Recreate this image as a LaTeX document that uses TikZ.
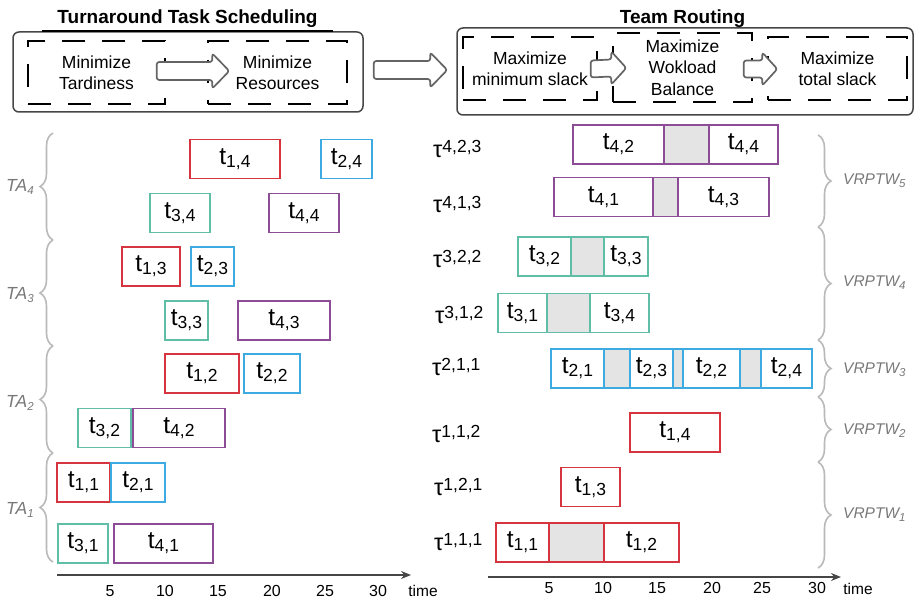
\documentclass[tikz,border=0pt]{standalone}
\usepackage{fontspec}
\setmainfont{Liberation Sans}
\usetikzlibrary{calc,decorations.pathreplacing,arrows.meta}

\definecolor{tred}{RGB}{214,52,62}
\definecolor{tblue}{RGB}{62,170,226}
\definecolor{tteal}{RGB}{96,190,166}
\definecolor{tpurple}{RGB}{140,76,150}
\definecolor{slotfill}{RGB}{228,228,228}
\definecolor{bracegray}{RGB}{185,185,185}
\definecolor{labelgray}{RGB}{120,120,120}
\definecolor{framegray}{RGB}{70,70,70}
\definecolor{arrowgray}{RGB}{100,100,100}

% task label t_{i,j}
\newcommand\tk[2]{{\fontsize{24.5}{24.5}\selectfont t\raisebox{-3pt}{\fontsize{17.5}{17.5}\selectfont #1,#2}}}
% route label tau^{i,j,k}
\newcommand\taul[1]{{\fontsize{23.5}{23.5}\selectfont τ\raisebox{5pt}{\fontsize{17.5}{17.5}\selectfont #1}}}
% group label with subscript
\newcommand\grp[3]{{\itshape\fontsize{#3}{#3}\selectfont #1\raisebox{-3pt}{\fontsize{11.5}{11.5}\selectfont #2}}}
% hollow block arrow between two coordinates
\newcommand\blockarr[5]{%
  \draw[blockarrow] ($(#1)+(0,-#4)$) -- ($(#2)+(-#3,-#4)$) -- ($(#2)+(-#3,-#5)$) --
    (#2) -- ($(#2)+(-#3,#5)$) -- ($(#2)+(-#3,#4)$) -- ($(#1)+(0,#4)$) -- cycle;}

\begin{document}
\begin{tikzpicture}[x=1pt,y=-1pt,
  task/.style={draw=#1, line width=1.8pt, minimum height=39pt, inner sep=0pt, fill=white},
  slotbox/.style={draw=#1, line width=1.8pt, minimum height=39pt, inner sep=0pt, fill=slotfill},
  goal/.style={draw=black, line width=1.4pt, dash pattern=on 23pt off 17pt, inner sep=0pt,
    align=center, font=\fontsize{17.5}{21.5}\selectfont},
  stage/.style={draw=framegray, line width=1.5pt, rounded corners=6pt, inner sep=0pt},
  blockarrow/.style={draw=arrowgray, line width=1.7pt, fill=white, rounded corners=2.5pt, line join=round},
  brace/.style={draw=bracegray, line width=1.6pt, decorate, decoration={brace, amplitude=13pt}},
  axis/.style={draw=framegray, line width=1.5pt, -{Stealth[length=10pt, width=8pt]}},
  tick/.style={font=\fontsize{16}{16}\selectfont},
  timelbl/.style={font=\fontsize{15.5}{15.5}\selectfont},
  grplbl/.style={text=labelgray, inner sep=0pt},
  routelbl/.style={inner sep=0pt, anchor=base west},
  titlelbl/.style={font=\bfseries\fontsize{19}{19}\selectfont, anchor=base}
]
\useasboundingbox (0,0) rectangle (914,599);

% ---------- objectives ----------
\node[titlelbl] (title1) at (187.5,24) {Turnaround Task Scheduling};
\node[titlelbl] (title2) at (682.5,23.5) {Team Routing};

\node[stage, minimum width=350pt, minimum height=80pt] (st1) at (188,72) {};
\draw[line width=2pt, black] ($(st1.north west)+(30,0)$) -- ($(st1.north east)+(-31,0)$);
\node[stage, minimum width=456pt, minimum height=87pt] (st2) at (685,71.5) {};

\node[goal, minimum width=137pt, minimum height=63pt] (g1) at (96.5,72.5) {Minimize\\Tardiness};
\node[goal, minimum width=139pt, minimum height=63pt] (g2) at (277.5,72.5) {Minimize\\Resources};

\node[goal, minimum width=134pt, minimum height=63pt] (g3) at (530,68.5) {Maximize\\minimum slack};
\node[goal, minimum width=139pt, minimum height=69pt] (g4) at (682.5,67.5) {Maximize\\Wokload\\Balance};
\node[goal, minimum width=139pt, minimum height=63pt] (g5) at (837.5,68.5) {Maximize\\total slack};

\coordinate (a1s) at ($(g1.east)+(-9,-1.5)$);
\coordinate (a1e) at ($(g2.west)+(22,-1.5)$);
\blockarr{a1s}{a1e}{17}{9}{17.5}
\coordinate (a2s) at ($(st1.east)+(10,-2)$);
\coordinate (a2e) at ($(st2.west)+(-9,-1.5)$);
\blockarr{a2s}{a2e}{17}{9}{17.5}
\coordinate (a3s) at ($(g3.east)+(-7,0.5)$);
\coordinate (a3e) at ($(g4.west)+(14,0.5)$);
\blockarr{a3s}{a3e}{15}{8.5}{16.5}
\coordinate (a4s) at ($(g4.east)+(-9,1.5)$);
\coordinate (a4e) at ($(g5.west)+(10,0.5)$);
\blockarr{a4s}{a4e}{15}{8.5}{16.5}

% ---------- turnaround schedule ----------
\node[task=tred,    minimum width=90pt] (L14) at (235,159)   {\tk{1}{4}};
\node[task=tblue,   minimum width=51pt] (L24) at (346.5,159) {\tk{2}{4}};
\node[task=tteal,   minimum width=60pt] (L34) at (180,213)   {\tk{3}{4}};
\node[task=tpurple, minimum width=70pt] (L44) at (304,213)   {\tk{4}{4}};
\node[task=tred,    minimum width=58pt] (L13) at (151,266.5) {\tk{1}{3}};
\node[task=tblue,   minimum width=43pt] (L23) at (212.5,266.5) {\tk{2}{3}};
\node[task=tteal,   minimum width=43pt] (L33) at (186.5,320.5) {\tk{3}{3}};
\node[task=tpurple, minimum width=92pt] (L43) at (284,320.5) {\tk{4}{3}};
\node[task=tred,    minimum width=74pt] (L12) at (202,373.5) {\tk{1}{2}};
\node[task=tblue,   minimum width=56pt] (L22) at (272,373.5) {\tk{2}{2}};
\node[task=tteal,   minimum width=53pt] (L32) at (104.5,428) {\tk{3}{2}};
\node[task=tpurple, minimum width=92pt] (L42) at (179,428)   {\tk{4}{2}};
\node[task=tred,    minimum width=53pt] (L11) at (83.5,482.5) {\tk{1}{1}};
\node[task=tblue,   minimum width=54pt] (L21) at (138,482.5) {\tk{2}{1}};
\node[task=tteal,   minimum width=50pt] (L31) at (83,543.5)  {\tk{3}{1}};
\node[task=tpurple, minimum width=99pt] (L41) at (163.5,543.5) {\tk{4}{1}};

\draw[brace] (53,240) -- (53,133);
\draw[brace] (53,346) -- (53,240);
\draw[brace] (53,453) -- (53,346);
\draw[brace] (53,562) -- (53,453);
\node[grplbl, anchor=base west] (TA4) at (6,192) {\grp{TA}{4}{17.5}};
\node[grplbl, anchor=base west] (TA3) at (6,299) {\grp{TA}{3}{17.5}};
\node[grplbl, anchor=base west] (TA2) at (6,407) {\grp{TA}{2}{17.5}};
\node[grplbl, anchor=base west] (TA1) at (6,514) {\grp{TA}{1}{17.5}};

\coordinate (axL0) at (57,575);
\coordinate (axL1) at (411,575);
\draw[axis] (axL0) -- (axL1);
\node[tick] (xl5)  at (110,591) {5};
\node[tick] (xl10) at (165,591) {10};
\node[tick] (xl15) at (218,591) {15};
\node[tick] (xl20) at (272,591) {20};
\node[tick] (xl25) at (325,591) {25};
\node[tick] (xl30) at (378,591) {30};
\node[timelbl] (xlt) at (423,591) {time};

% ---------- team routes ----------
\node[routelbl] (r423) at (433,158) {\taul{4,2,3}};
\node[task=tpurple, minimum width=91pt] (R42) at (618.5,144.5) {\tk{4}{2}};
\node[slotbox=tpurple, minimum width=45pt] (S1) at (686.5,144.5) {};
\node[task=tpurple, minimum width=69pt] (R44) at (743.5,144.5) {\tk{4}{4}};

\node[routelbl] (r413) at (433,213) {\taul{4,1,3}};
\node[task=tpurple, minimum width=99pt] (R41) at (603.5,197) {\tk{4}{1}};
\node[slotbox=tpurple, minimum width=25pt] (S2) at (665.5,197) {};
\node[task=tpurple, minimum width=91pt] (R43) at (723.5,197) {\tk{4}{3}};

\node[routelbl] (r322) at (433,267) {\taul{3,2,2}};
\node[task=tteal, minimum width=53pt] (R32) at (544.5,256.5) {\tk{3}{2}};
\node[slotbox=tteal, minimum width=33pt] (S3) at (587.5,256.5) {};
\node[task=tteal, minimum width=44pt] (R33) at (626,256.5) {\tk{3}{3}};

\node[routelbl] (r312) at (435,323) {\taul{3,1,2}};
\node[task=tteal, minimum width=49pt] (R31) at (522.5,313) {\tk{3}{1}};
\node[slotbox=tteal, minimum width=43pt] (S4) at (568.5,313) {};
\node[task=tteal, minimum width=59pt] (R34) at (619.5,313) {\tk{3}{4}};

\node[routelbl] (r211) at (432,375) {\taul{2,1,1}};
\node[task=tblue, minimum width=53pt] (R21) at (577.5,368.5) {\tk{2}{1}};
\node[slotbox=tblue, minimum width=26pt] (S5) at (617,368.5) {};
\node[task=tblue, minimum width=43pt] (R23) at (651.5,368.5) {\tk{2}{3}};
\node[slotbox=tblue, minimum width=10pt] (S6) at (678,368.5) {};
\node[task=tblue, minimum width=57pt] (R22) at (711.5,368.5) {\tk{2}{2}};
\node[slotbox=tblue, minimum width=21pt] (S7) at (750.5,368.5) {};
\node[task=tblue, minimum width=51pt] (R24) at (786.5,368.5) {\tk{2}{4}};

\node[routelbl] (r112) at (432,442) {\taul{1,1,2}};
\node[task=tred, minimum width=90pt] (R14) at (675,432.5) {\tk{1}{4}};

\node[routelbl] (r121) at (434,495) {\taul{1,2,1}};
\node[task=tred, minimum width=59pt] (R13) at (590.5,487) {\tk{1}{3}};

\node[routelbl] (r111) at (434,550) {\taul{1,1,1}};
\node[task=tred, minimum width=53pt] (R11) at (522.5,542.5) {\tk{1}{1}};
\node[slotbox=tred, minimum width=55pt] (S8) at (576.5,542.5) {};
\node[task=tred, minimum width=75pt] (R12) at (641.5,542.5) {\tk{1}{2}};

\draw[brace] (818,135) -- (818,227);
\draw[brace] (818,227) -- (818,340);
\draw[brace] (818,340) -- (818,397);
\draw[brace] (818,397) -- (818,462);
\draw[brace] (818,462) -- (818,568);
\node[grplbl, anchor=base west] (V5) at (843,185) {\grp{VRPTW}{5}{15.5}};
\node[grplbl, anchor=base west] (V4) at (843,287) {\grp{VRPTW}{4}{15.5}};
\node[grplbl, anchor=base west] (V3) at (843,373) {\grp{VRPTW}{3}{15.5}};
\node[grplbl, anchor=base west] (V2) at (843,434) {\grp{VRPTW}{2}{15.5}};
\node[grplbl, anchor=base west] (V1) at (843,518) {\grp{VRPTW}{1}{15.5}};

\coordinate (axR0) at (488,577);
\coordinate (axR1) at (841,577);
\draw[axis] (axR0) -- (axR1);
\node[tick] (xr5)  at (549,588) {5};
\node[tick] (xr10) at (603,588) {10};
\node[tick] (xr15) at (657,588) {15};
\node[tick] (xr20) at (712,588) {20};
\node[tick] (xr25) at (762,588) {25};
\node[tick] (xr30) at (817,588) {30};
\node[timelbl] (xrt) at (858,589) {time};
\end{tikzpicture}
\end{document}
